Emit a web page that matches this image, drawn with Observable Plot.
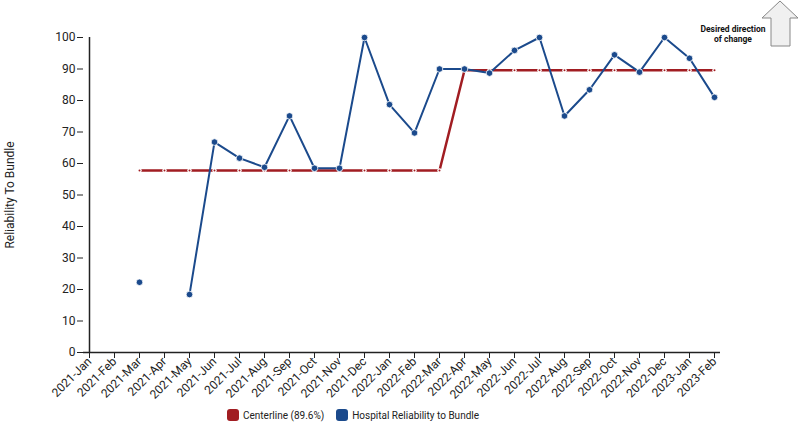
<!DOCTYPE html>
<html>
<head>
<meta charset="utf-8">
<script src="https://cdn.jsdelivr.net/npm/d3@7"></script>
<script src="https://cdn.jsdelivr.net/npm/@observablehq/plot@0.6"></script>
<style>
  body { margin: 0; background: #fff; font-family: Roboto, "Noto Sans", sans-serif; }
  #wrap { position: relative; width: 800px; height: 429px; }
  #wrap svg { overflow: visible; }
  #legend { position: absolute; left: 227px; top: 409px; display: flex; align-items: center; font-size: 10px; color: #222; }
  .sw { width: 12px; height: 12px; border-radius: 3px; margin-right: 4px; }
  .item { display: flex; align-items: center; margin-right: 12px; }
  #arrow { position: absolute; left: 0; top: 0; }
</style>
</head>
<body>
<div id="wrap"></div>
<script>
const months = ["2021-Jan","2021-Feb","2021-Mar","2021-Apr","2021-May","2021-Jun","2021-Jul","2021-Aug","2021-Sep","2021-Oct","2021-Nov","2021-Dec","2022-Jan","2022-Feb","2022-Mar","2022-Apr","2022-May","2022-Jun","2022-Jul","2022-Aug","2022-Sep","2022-Oct","2022-Nov","2022-Dec","2023-Jan","2023-Feb"];
const reliability = [null,null,22.3,null,18.4,66.8,61.7,58.8,75.1,58.5,58.5,100,78.7,69.7,90.0,90.0,88.7,95.9,100,75.1,83.4,94.5,89.0,100,93.4,81.0];
const centerline = [null,null,57.8,57.8,57.8,57.8,57.8,57.8,57.8,57.8,57.8,57.8,57.8,57.8,57.8,89.6,89.6,89.6,89.6,89.6,89.6,89.6,89.6,89.6,89.6,89.6];
const yTicks = [0,10,20,30,40,50,60,70,80,90,100];
const seriesNames = ["Centerline (89.6%)", "Hospital Reliability to Bundle"];
const colors = ["#a11d22", "#1b4a8c"];

const rows = months.map((m, i) => ({month: m, value: reliability[i], cl: centerline[i]}));

const chart = Plot.plot({
  width: 800,
  height: 406,
  marginLeft: 83,
  marginRight: 80,
  marginTop: 37,
  marginBottom: 54,
  style: {fontFamily: "Roboto, 'Noto Sans', sans-serif", fontSize: "12px", color: "#222", overflow: "visible"},
  x: {type: "point", domain: months, padding: 0},
  y: {domain: [0, 100]},
  marks: [
    Plot.axisX({tickRotate: -45, tickSize: 6, tickPadding: 1, label: null, fontSize: 12}),
    Plot.axisY({ticks: yTicks, tickSize: 6, tickPadding: 2, label: "Reliability To Bundle", labelAnchor: "center", labelArrow: "none", labelOffset: 78, fontSize: 12}),
    Plot.ruleY([0], {stroke: "#222", strokeWidth: 1.5}),
    Plot.ruleX([months[0]], {y1: 0, y2: 100, stroke: "#222", strokeWidth: 1.5}),
    Plot.line(rows, {x: "month", y: "cl", stroke: colors[0], strokeWidth: 2.5}),
    Plot.dot(rows.filter(d => d.cl != null), {x: "month", y: "cl", r: 2.2, fill: "white"}),
    Plot.dot(rows.filter(d => d.cl != null), {x: "month", y: "cl", r: 1, fill: colors[0]}),
    Plot.line(rows, {x: "month", y: "value", stroke: colors[1], strokeWidth: 2}),
    Plot.dot(rows.filter(d => d.value != null), {x: "month", y: "value", r: 3.3, fill: colors[1], stroke: "white", strokeWidth: 0.8})
  ]
});
document.getElementById("wrap").appendChild(chart);

const legend = document.createElement("div");
legend.id = "legend";
seriesNames.forEach((n, i) => {
  const it = document.createElement("div");
  it.className = "item";
  it.innerHTML = `<div class="sw" style="background:${colors[i]}"></div><span>${n}</span>`;
  legend.appendChild(it);
});
document.getElementById("wrap").appendChild(legend);

const ns = "http://www.w3.org/2000/svg";
const a = document.createElementNS(ns, "svg");
a.setAttribute("id", "arrow");
a.setAttribute("width", 800);
a.setAttribute("height", 60);
a.innerHTML = `<polygon points="780,1 798,18 790,18 790,46 771,46 771,18 762,18" fill="#f0f0f0" stroke="#888" stroke-width="1"/>
<text x="733" y="32" text-anchor="middle" font-family="Roboto, sans-serif" font-weight="bold" font-size="8.5" fill="#111">Desired direction</text>
<text x="733" y="42" text-anchor="middle" font-family="Roboto, sans-serif" font-weight="bold" font-size="8.5" fill="#111">of change</text>`;
document.getElementById("wrap").appendChild(a);
</script>
</body>
</html>
